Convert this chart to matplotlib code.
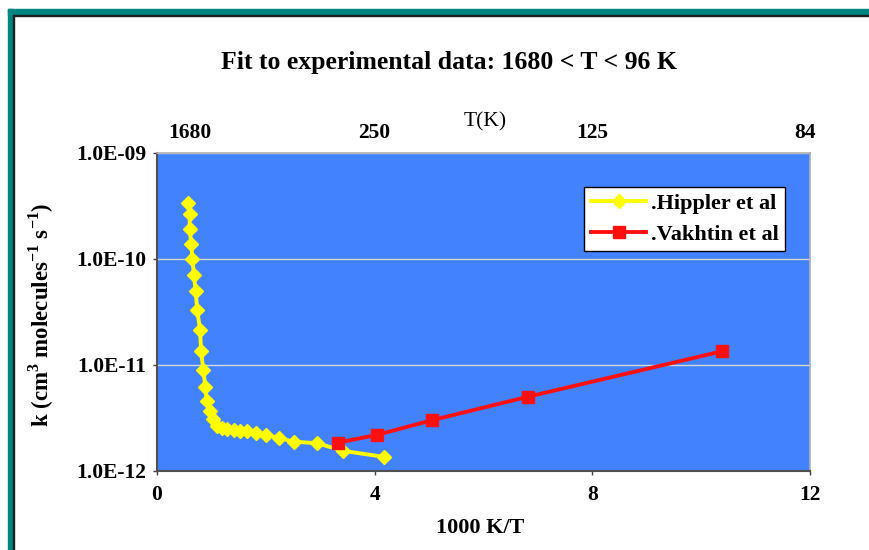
import matplotlib
matplotlib.use('Agg')
import matplotlib.pyplot as plt
from matplotlib.patches import Rectangle

# Hippler et al (1000 K/T, k)
hippler_x = [0.57, 0.60, 0.60, 0.63, 0.65, 0.68, 0.71, 0.74, 0.79, 0.81, 0.85, 0.89,
             0.91, 0.97, 1.02, 1.11, 1.20, 1.29, 1.42, 1.53, 1.66, 1.82, 2.00, 2.25,
             2.52, 2.94, 3.42, 4.17]
hippler_k = [3.41e-10, 2.63e-10, 1.90e-10, 1.40e-10, 1.00e-10, 7.0e-11, 4.97e-11, 3.27e-11,
             2.16e-11, 1.37e-11, 9.04e-12, 6.14e-12, 4.60e-12, 3.70e-12, 3.10e-12, 2.67e-12,
             2.54e-12, 2.48e-12, 2.43e-12, 2.39e-12, 2.36e-12, 2.26e-12, 2.19e-12, 2.04e-12,
             1.89e-12, 1.83e-12, 1.55e-12, 1.36e-12]

# Vakhtin et al
vakhtin_x = [3.32, 4.04, 5.06, 6.81, 10.39]
vakhtin_k = [1.85e-12, 2.19e-12, 3.02e-12, 5.01e-12, 1.35e-11]

y_ticks = [1e-12, 1e-11, 1e-10, 1e-9]
y_labels = ['1.0E-12', '1.0E-11', '1.0E-10', '1.0E-09']
x_ticks = [0, 4, 8, 12]
top_T = [1680, 250, 125, 84]

serif = 'Liberation Serif'
plt.rcParams['font.family'] = serif
plt.rcParams['mathtext.fontset'] = 'custom'
plt.rcParams['mathtext.rm'] = serif
plt.rcParams['mathtext.bf'] = serif + ':bold'

fig = plt.figure(figsize=(8.7, 5.5), dpi=100)
W, H = 870, 550

# teal frame on top and left
teal = '#008580'
fig.patches.append(Rectangle((8 / W, 0), 5 / W, 1 - 9 / H, transform=fig.transFigure,
                             color=teal, zorder=0))
fig.patches.append(Rectangle((8 / W, 1 - 15 / H), 1, 6 / H, transform=fig.transFigure,
                             color=teal, zorder=0))
fig.patches.append(Rectangle((13 / W, 0), 1.2 / W, 1 - 15 / H, transform=fig.transFigure,
                             color='#202020', zorder=0))
fig.patches.append(Rectangle((13 / W, 1 - 16.2 / H), 1, 1.2 / H, transform=fig.transFigure,
                             color='#202020', zorder=0))

ax = fig.add_axes([157 / W, 1 - 471 / H, 653 / W, 318 / H])
ax.set_facecolor('#4282FF')

ax.plot(hippler_x, hippler_k, color='#FFFF00', lw=2.8, marker='D', ms=7,
        label='.Hippler et al', zorder=3)
ax.plot(vakhtin_x, vakhtin_k, color='#FF1010', lw=2.8, marker='s', ms=8,
        label='.Vakhtin et al', zorder=4)

ax.set_yscale('log')
ax.set_ylim(1e-12, 1e-9)
ax.set_xlim(0, 12)
ax.set_yticks(y_ticks)
ax.set_yticklabels(y_labels)
ax.yaxis.set_minor_locator(plt.NullLocator())
ax.set_xticks(x_ticks)
ax.grid(True, axis='y', which='major', color='#D8D8D8', lw=1)
ax.set_axisbelow(True)

for lab in ax.get_xticklabels() + ax.get_yticklabels():
    lab.set_fontweight('bold')
    lab.set_fontsize(15.5)
ax.tick_params(axis='x', direction='out', length=3, width=1, color='#404040', pad=7)
ax.tick_params(axis='y', direction='out', length=3, width=1, color='#404040', pad=5)

for s in ['left', 'bottom']:
    ax.spines[s].set_color('#505050')
    ax.spines[s].set_linewidth(1.5)
for s in ['right', 'top']:
    ax.spines[s].set_color('#B0B0B0')
    ax.spines[s].set_linewidth(1.2)

ax.set_xlabel('1000 K/T', fontsize=16, fontweight='bold')
ax.xaxis.set_label_coords(0.495, -0.148)
ax.set_ylabel(r'k (cm$^{\mathbf{3}}$ molecules$^{\mathbf{-1}}$ s$^{\mathbf{-1}}$)',
              fontsize=16.5, fontweight='bold')
ax.yaxis.set_label_coords(-0.155, 0.49)

# top T(K) axis
top = ax.twiny()
top.set_xlim(ax.get_xlim())
top.set_xticks([1000 / t for t in top_T])
top.set_xticklabels([str(t) for t in top_T], fontsize=15.5, fontweight='bold')
top.tick_params(axis='x', length=0, pad=7)
for s in top.spines.values():
    s.set_visible(False)
fig.text(485 / W, 1 - 122 / H, 'T(K)', ha='center', va='center', fontsize=15.5)

leg = ax.legend(loc='upper right', bbox_to_anchor=(0.962, 0.893), frameon=True,
                fancybox=False, edgecolor='black', framealpha=1, borderpad=0.3,
                handlelength=2.5, handletextpad=0.2, labelspacing=0.45,
                borderaxespad=0,
                prop={'family': serif, 'weight': 'bold', 'size': 16})
leg.get_frame().set_linewidth(1)

fig.text(449 / W, 1 - 62 / H, 'Fit to experimental data: 1680 < T < 96 K',
         ha='center', va='center', fontsize=18.5, fontweight='bold')

fig.savefig('out.png', dpi=100)
